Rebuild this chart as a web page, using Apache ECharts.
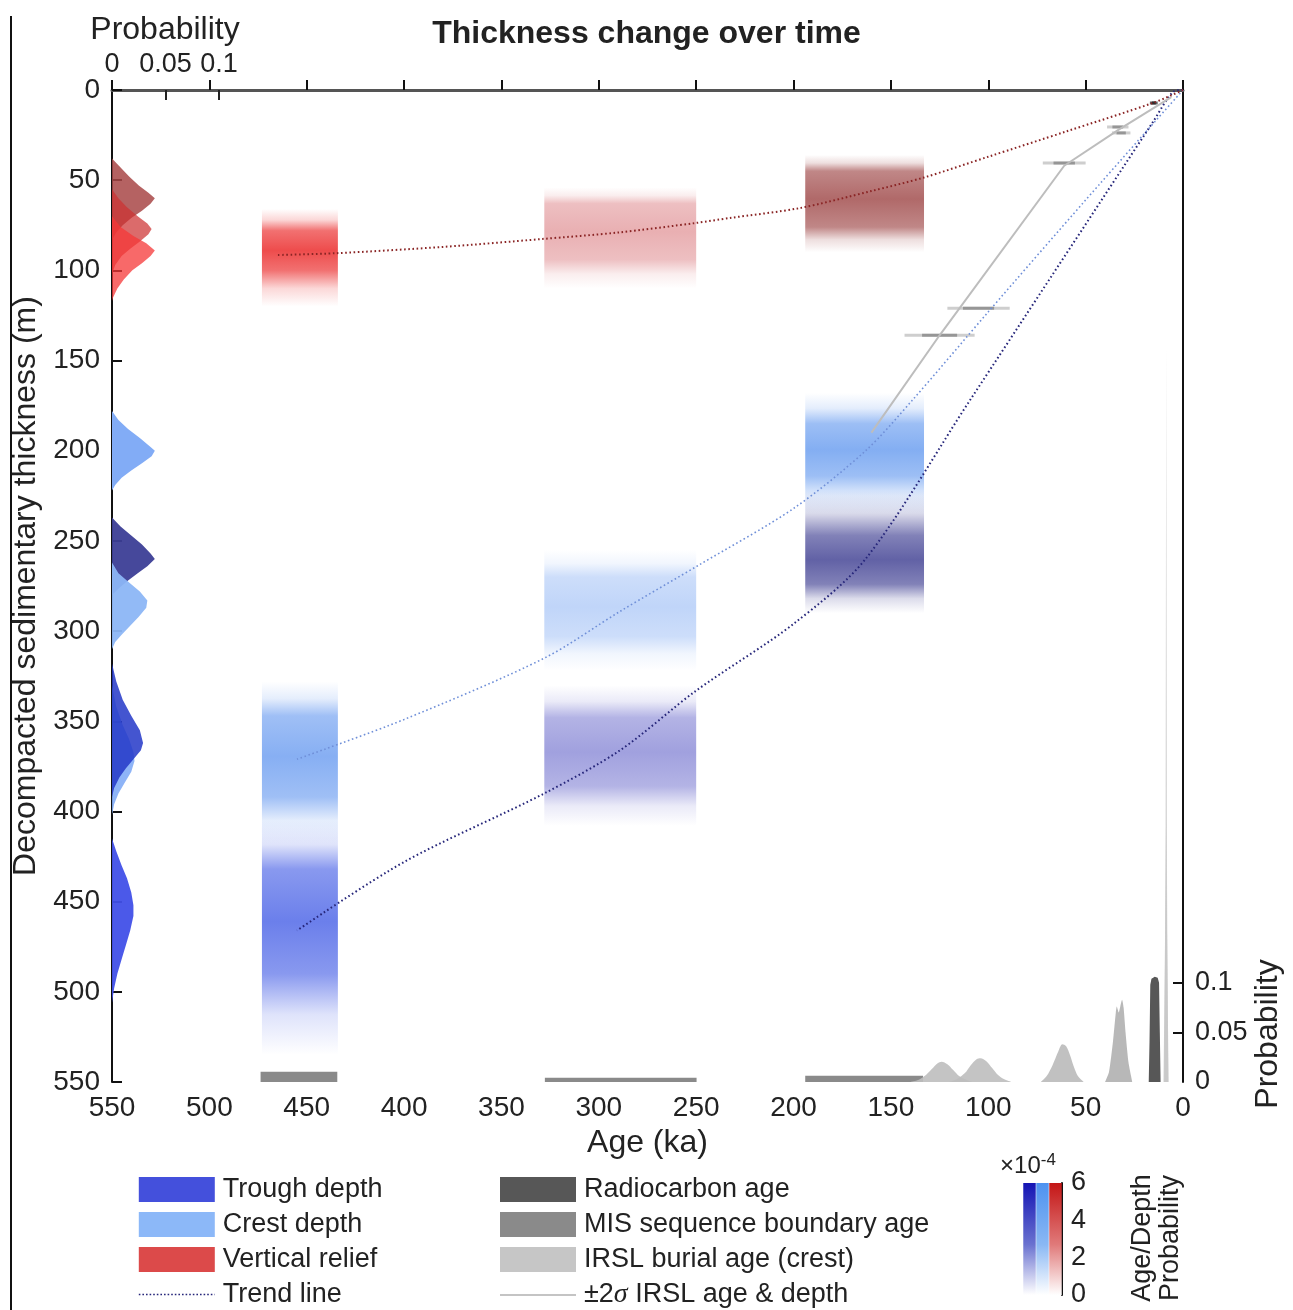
<!DOCTYPE html>
<html><head><meta charset="utf-8">
<script src="https://cdn.jsdelivr.net/npm/echarts@6/dist/echarts.min.js"></script>
<style>html,body{margin:0;padding:0;background:#fff}#c{width:1293px;height:1310px}</style>
</head><body><div id="c"></div>
<script>
// ================= DATA =================
const probTicks = [0, 0.05, 0.1];
const probInnerTicks = [0.05, 0.1];

// 2D age/depth probability clouds: [oldAge, youngAge, faintTop, coreTop, coreBottom, faintBottom]
const troughClouds = [[194,133,222,247,274,290],[328,250,330,348,386,408],[473,434,405,432,490,535]];
const crestClouds  = [[194,133,168,185,214,236],[328,250,255,270,303,322],[473,434,328,347,392,418]];
const reliefClouds = [[473,434,66,78,100,120],[328,250,54,63,94,110],[194,133,36,45,76,90]];

// trend lines [age, depth]
const troughTrend = [[0,0],[5,1],[15.4,17.7],[109.4,172],[163,260],[200,296],[250,333],[289,366],[328,390],[400,428],[455,466]];
const crestTrend  = [[0,0],[50,61],[100,123],[139,172],[163,200],[200,232],[248,263],[289,289],[328,315],[400,349],[455,371]];
const reliefTrend = [[0,0],[15,7],[60,23],[100,37],[133,48.5],[160,56],[197,65.5],[233,71],[250,73.7],[290,79],[329,82.6],[380,87],[435,90.5],[466,91.5]];

// depth probability profiles [probability, depth]
const reliefProfile163 = [[0,38],[0.008,43],[0.016,48],[0.025,53],[0.034,57],[0.040,60],[0.036,63],[0.028,67],[0.018,71],[0.010,75],[0.004,79],[0,83]];
const reliefProfile288 = [[0,55],[0.006,60],[0.014,65],[0.024,70],[0.033,74],[0.037,77],[0.034,80],[0.026,84],[0.017,88],[0.009,92],[0.003,97],[0,102]];
const reliefProfile455 = [[0,70],[0.008,76],[0.020,81],[0.032,85],[0.040,89],[0.036,92],[0.028,96],[0.019,100],[0.011,105],[0.005,110],[0.001,115],[0,117]];
const crestProfile163  = [[0,178],[0.006,183],[0.015,188],[0.026,193],[0.036,198],[0.040,200],[0.037,203],[0.028,207],[0.018,211],[0.009,215],[0.003,219],[0,222]];
const troughProfile163 = [[0,237],[0.008,242],[0.018,247],[0.028,252],[0.036,257],[0.040,260],[0.033,264],[0.024,268],[0.015,272],[0.007,276],[0,280]];
const crestProfile288  = [[0,262],[0.006,268],[0.016,273],[0.026,278],[0.033,283],[0.032,287],[0.025,292],[0.017,297],[0.009,302],[0.003,306],[0,310]];
const crestProfile455  = [[0,330],[0.004,342],[0.010,352],[0.016,360],[0.020,367],[0.021,372],[0.018,378],[0.012,384],[0.006,390],[0.002,396],[0,402]];
const troughProfile288 = [[0,318],[0.004,328],[0.010,338],[0.018,347],[0.026,355],[0.029,362],[0.027,366],[0.020,371],[0.013,376],[0.007,381],[0.002,387],[0,392]];
const troughProfile455 = [[0,415],[0.004,422],[0.009,430],[0.014,437],[0.018,445],[0.020,452],[0.020,458],[0.017,466],[0.013,474],[0.009,482],[0.005,490],[0.002,498],[0,506]];

// age probability distributions [age, probability]
const misAge455 = [[473.7,0],[473.7,0.0104],[434.3,0.0104],[434.3,0]];
const misAge288 = [[327.7,0],[327.7,0.0043],[249.8,0.0043],[249.8,0]];
const misAge163 = [[194,0],[194,0.0064],[133.5,0.0064],[133.5,0]];
const irslAge125 = [[140,0],[136,0.002],[132,0.007],[129,0.013],[126,0.019],[124,0.0205],[121,0.018],[118,0.012],[115,0.006],[111,0.002],[108,0]];
const irslAge105 = [[120,0],[116,0.003],[112,0.009],[109,0.017],[106,0.023],[104,0.024],[101,0.021],[98,0.014],[95,0.007],[92,0.003],[88,0]];
const irslAge61  = [[73,0],[70,0.006],[67,0.017],[64,0.031],[62,0.038],[60,0.036],[58,0.027],[56,0.015],[54,0.006],[51,0]];
const irslAge32  = [[40,0],[38,0.01],[36,0.04],[34.5,0.07],[34,0.076],[33,0.07],[32,0.078],[31.3,0.083],[30.5,0.075],[29.5,0.05],[28,0.02],[26,0]];
const irslAge8tall = [[9.6,0],[9.0,0.2],[8.6,0.74],[8.2,0.2],[7.6,0]];
const irslAge8 = [[10,0],[9.2,0.15],[8.7,0.265],[8.2,0.15],[7.4,0]];
const radiocarbonAge = [[17.6,0],[17.2,0.04],[16.8,0.098],[16.2,0.104],[14.5,0.106],[13,0.105],[12.3,0.1],[11.9,0.05],[11.5,0]];

// IRSL ±2σ bars [oldAge, youngAge, depth] and connecting path [age, depth]
const irslBars = [[39,28,20.5],[36.5,27,23.8],[72,50,40.5],[121,89,121],[143,107,136]];
const radiocarbonBar = [[17,13,7.2]];
const irslPath = [[6,4],[33,22],[61,42],[125,136],[160,190]];

// colorbar
const colorbarCats = ['trough','crest','relief'];
const colorbarVals = [6,6,6];

// ================= STYLE =================
const FONT = 'Liberation Sans, Arial, Helvetica, sans-serif';
const troughPal = [[70,70,150,0.85],[110,110,205,0.65],[70,95,230,0.8]];
const crestPal  = [[110,160,240,0.85],[150,185,245,0.6],[105,155,240,0.8]];
const reliefPal = [[235,45,45,0.85],[215,110,115,0.55],[150,55,55,0.75]];

function cloudRender(pal){
  return function(params, api){
    const o=api.value(0), y=api.value(1), ft=api.value(2), ct=api.value(3), cb=api.value(4), fb=api.value(5);
    const p1=api.coord([o,ft]), p2=api.coord([y,fb]);
    const h=fb-ft, s1=(ct-ft)/h, s2=(cb-ft)/h;
    const c=pal[params.dataIndex];
    const col=k=>`rgba(${c[0]},${c[1]},${c[2]},${(c[3]*k).toFixed(3)})`;
    const stops=[
      {offset:0,color:col(0)},{offset:s1*0.5,color:col(0.22)},{offset:s1,color:col(0.8)},
      {offset:(s1+s2)/2,color:col(1)},{offset:s2,color:col(0.8)},{offset:s2+(1-s2)*0.5,color:col(0.22)},{offset:1,color:col(0)}];
    return {type:'rect',
      shape:{x:Math.min(p1[0],p2[0]),y:Math.min(p1[1],p2[1]),width:Math.abs(p2[0]-p1[0]),height:Math.abs(p2[1]-p1[1])},
      style:{fill:new echarts.graphic.LinearGradient(0,0,0,1,stops)}};
  };
}
function cloudSeries(name,data,pal){
  return {type:'custom',name,xAxisIndex:0,yAxisIndex:0,data,dimensions:['o','y','ft','ct','cb','fb'],
    encode:{x:[0,1],y:[2,5]},renderItem:cloudRender(pal),silent:true,z:1};
}
function profileSeries(name,pts,fill){
  return {type:'custom',name,xAxisIndex:1,yAxisIndex:0,data:pts,encode:{x:0,y:1},silent:true,z:5,
    itemStyle:{color:fill},
    renderItem:function(params,api){
      if(params.dataIndex!==0) return null;
      return {type:'polygon',shape:{points:pts.map(p=>api.coord(p))},style:{fill:fill}};
    }};
}
function trendSeries(name,data,color,width){
  return {type:'line',name,xAxisIndex:0,yAxisIndex:0,data,symbol:'none',smooth:0.3,silent:true,z:3,
    lineStyle:{color,width,type:[1.6,2.6]},itemStyle:{color}};
}
function ageDist(name,data,color,smooth){
  return {type:'line',name,xAxisIndex:0,yAxisIndex:1,data,symbol:'none',smooth:smooth||0,silent:true,z:4,
    lineStyle:{width:0,color},itemStyle:{color},areaStyle:{color,opacity:1}};
}
function barRender(stroke,core){
  return function(params,api){
    const o=api.value(0), y=api.value(1), d=api.value(2);
    const a=api.coord([o,d]), b=api.coord([y,d]);
    const c1=api.coord([o-(o-y)*0.25,d]), c2=api.coord([y+(o-y)*0.25,d]);
    return {type:'group',children:[
      {type:'line',shape:{x1:a[0],y1:a[1],x2:b[0],y2:b[1]},style:{stroke,lineWidth:3}},
      {type:'line',shape:{x1:c1[0],y1:c1[1],x2:c2[0],y2:c2[1]},style:{stroke:core,lineWidth:3}}]};
  };
}

const axisText = {fontSize:28,color:'#222',fontFamily:FONT};

const option = {
  animation:false,
  backgroundColor:'#fff',
  textStyle:{fontFamily:FONT},
  title:{text:'Thickness change over time',left:'center',top:13,
    textStyle:{fontSize:32,fontWeight:'bold',color:'#222',fontFamily:FONT}},
  grid:[
    {left:112,top:90,right:110,bottom:228,containLabel:false},
    {left:1023,top:1183,width:39,height:112,containLabel:false}
  ],
  xAxis:[
    {type:'value',gridIndex:0,position:'bottom',min:0,max:550,interval:50,inverse:true,
     axisLine:{lineStyle:{color:'#111',width:2}},
     axisTick:{inside:true,length:10,lineStyle:{color:'#111',width:2}},
     axisLabel:Object.assign({margin:12},axisText),splitLine:{show:false},
     name:'Age (ka)',nameLocation:'middle',nameGap:44,nameTextStyle:{fontSize:32,color:'#222',fontFamily:FONT}},
    {type:'value',gridIndex:0,position:'top',min:0,max:1.0,
     axisLine:{onZero:false,lineStyle:{color:'#555',width:3}},
     axisTick:{inside:true,length:10,customValues:probInnerTicks,lineStyle:{color:'#222',width:2}},
     axisLabel:Object.assign({margin:12,customValues:probTicks},axisText,{fontSize:27}),splitLine:{show:false}},
    {type:'category',gridIndex:1,data:colorbarCats,show:false}
  ],
  yAxis:[
    {type:'value',gridIndex:0,position:'left',min:0,max:550,interval:50,inverse:true,
     axisLine:{onZero:false,lineStyle:{color:'#111',width:2}},
     axisTick:{inside:true,length:10,lineStyle:{color:'#111',width:2}},
     axisLabel:Object.assign({margin:12},axisText),splitLine:{show:false},
     name:'Decompacted sedimentary thickness (m)',nameLocation:'middle',nameGap:70,
     nameTextStyle:{fontSize:32,color:'#222',fontFamily:FONT}},
    {type:'value',gridIndex:0,position:'right',min:0,max:1.0,
     axisLine:{onZero:false,lineStyle:{color:'#111',width:2}},
     axisTick:{inside:true,length:10,customValues:probInnerTicks,lineStyle:{color:'#111',width:2}},
     axisLabel:Object.assign({margin:12,customValues:probTicks},axisText,{fontSize:27}),splitLine:{show:false}},
    {type:'value',gridIndex:1,position:'right',min:0,max:6,interval:2,
     axisLine:{show:true,lineStyle:{color:'#111',width:2}},axisTick:{show:false},
     axisLabel:Object.assign({margin:9},axisText,{fontSize:27}),splitLine:{show:false}}
  ],
  legend:[
    {orient:'vertical',left:138,top:1176,itemWidth:76,itemHeight:25,itemGap:8,padding:0,selectedMode:false,
     textStyle:{fontSize:27,color:'#222',fontFamily:FONT,padding:[0,0,0,3]},
     data:[{name:'Trough depth',icon:'rect',itemStyle:{color:'#4450dc'}},
           {name:'Crest depth',icon:'rect',itemStyle:{color:'#8cb8f8'}},
           {name:'Vertical relief',icon:'rect',itemStyle:{color:'#dc4a4a'}},
           {name:'Trend line',itemStyle:{opacity:0},lineStyle:{color:'#26267a',width:1.6,type:[1.6,2]}}]},
    {orient:'vertical',left:499,top:1176,itemWidth:76,itemHeight:25,itemGap:8,padding:0,selectedMode:false,
     formatter:function(n){return n.charAt(0)==='±' ? '{n|±2}{i|σ}{n| IRSL age & depth}' : n;},
     textStyle:{fontSize:27,color:'#222',fontFamily:FONT,padding:[0,0,0,3],
       rich:{n:{fontSize:27,color:'#222',fontFamily:FONT},i:{fontSize:28,color:'#222',fontStyle:'italic',fontFamily:'Liberation Serif, DejaVu Serif, serif'}}},
     data:[{name:'Radiocarbon age',icon:'rect',itemStyle:{color:'#575757'}},
           {name:'MIS sequence boundary age',icon:'rect',itemStyle:{color:'#8a8a8a'}},
           {name:'IRSL burial age (crest)',icon:'rect',itemStyle:{color:'#c6c6c6'}},
           {name:'±2σ IRSL age & depth',itemStyle:{opacity:0},lineStyle:{color:'#c4c4c4',width:2}}]}
  ],
  graphic:[
    {type:'line',shape:{x1:11,y1:16,x2:11,y2:1310},style:{stroke:'#111',lineWidth:2}},
    {type:'text',x:165,y:30,style:{text:'Probability',fontSize:32,fill:'#222',fontFamily:FONT,textAlign:'center',textVerticalAlign:'middle'}},
    {type:'text',x:1268,y:1034,rotation:Math.PI/2,style:{text:'Probability',fontSize:32,fill:'#222',fontFamily:FONT,textAlign:'center',textVerticalAlign:'middle'}},
    {type:'text',x:1028,y:1166,style:{text:'{a|×10}{b|-4}',textAlign:'center',textVerticalAlign:'middle',
      rich:{a:{fontSize:24,fill:'#222',fontFamily:FONT},b:{fontSize:17,fill:'#222',fontFamily:FONT,verticalAlign:'top',padding:[0,0,12,0]}}}},
    {type:'text',x:1157,y:1238,rotation:Math.PI/2,style:{text:'Age/Depth\nProbability',fontSize:27,lineHeight:28,fill:'#222',fontFamily:FONT,textAlign:'center',textVerticalAlign:'middle'}}
  ],
  series:[
    cloudSeries('Trough depth',troughClouds,troughPal),
    cloudSeries('Crest depth',crestClouds,crestPal),
    cloudSeries('Vertical relief',reliefClouds,reliefPal),
    trendSeries('Trend line',troughTrend,'#26267a',2),
    trendSeries('Trend line',crestTrend,'#6f8fd8',1.6),
    trendSeries('Trend line',reliefTrend,'#8a2424',2),
    {type:'line',name:'±2σ IRSL age & depth',xAxisIndex:0,yAxisIndex:0,data:irslPath,symbol:'none',silent:true,z:3,
     lineStyle:{color:'#bdbdbd',width:2},itemStyle:{color:'#bdbdbd'}},
    {type:'custom',name:'±2σ IRSL age & depth',xAxisIndex:0,yAxisIndex:0,data:irslBars,encode:{x:[0,1],y:2},silent:true,z:3,
     renderItem:barRender('rgba(165,165,165,0.55)','rgba(120,120,120,0.65)')},
    {type:'custom',name:'Radiocarbon age',xAxisIndex:0,yAxisIndex:0,data:radiocarbonBar,encode:{x:[0,1],y:2},silent:true,z:3,
     renderItem:barRender('rgba(60,60,60,0.8)','rgba(40,40,40,0.9)')},
    ageDist('MIS sequence boundary age',misAge455,'#8a8a8a'),
    ageDist('MIS sequence boundary age',misAge288,'#8a8a8a'),
    ageDist('MIS sequence boundary age',misAge163,'#8a8a8a'),
    ageDist('IRSL burial age (crest)',irslAge125,'rgba(190,190,190,0.9)',0.3),
    ageDist('IRSL burial age (crest)',irslAge105,'rgba(190,190,190,0.9)',0.3),
    ageDist('IRSL burial age (crest)',irslAge61,'rgba(190,190,190,0.95)',0.3),
    ageDist('IRSL burial age (crest)',irslAge32,'rgba(180,180,180,0.95)',0.2),
    ageDist('IRSL burial age (crest)',irslAge8tall,'rgba(195,195,195,0.7)'),
    ageDist('IRSL burial age (crest)',irslAge8,'rgba(200,200,200,0.9)'),
    ageDist('Radiocarbon age',radiocarbonAge,'#575757'),
    profileSeries('Vertical relief',reliefProfile163,'rgba(168,70,70,0.85)'),
    profileSeries('Vertical relief',reliefProfile288,'rgba(205,50,50,0.72)'),
    profileSeries('Vertical relief',reliefProfile455,'rgba(245,55,55,0.75)'),
    profileSeries('Crest depth',crestProfile163,'rgba(130,172,246,1)'),
    profileSeries('Trough depth',troughProfile163,'rgba(60,62,150,0.95)'),
    profileSeries('Crest depth',crestProfile288,'rgba(140,182,246,0.95)'),
    profileSeries('Crest depth',crestProfile455,'rgba(130,172,246,0.9)'),
    profileSeries('Trough depth',troughProfile288,'rgba(35,55,200,0.85)'),
    profileSeries('Trough depth',troughProfile455,'rgba(65,80,232,0.95)'),
    {type:'bar',name:'Age/Depth probability',xAxisIndex:2,yAxisIndex:2,barCategoryGap:'4%',silent:true,
     data:colorbarVals.map((v,i)=>({value:v,itemStyle:{color:new echarts.graphic.LinearGradient(0,0,0,1,[
       {offset:0,color:['#1414b4','#4d92f0','#c41616'][i]},
       {offset:0.55,color:['#6a72d0','#8ab8f4','#e07a7a'][i]},
       {offset:1,color:'#ffffff'}])}}))}
  ]
};
const chart = echarts.init(document.getElementById('c'),null,{renderer:'canvas'});
chart.setOption(option);
</script></body></html>
